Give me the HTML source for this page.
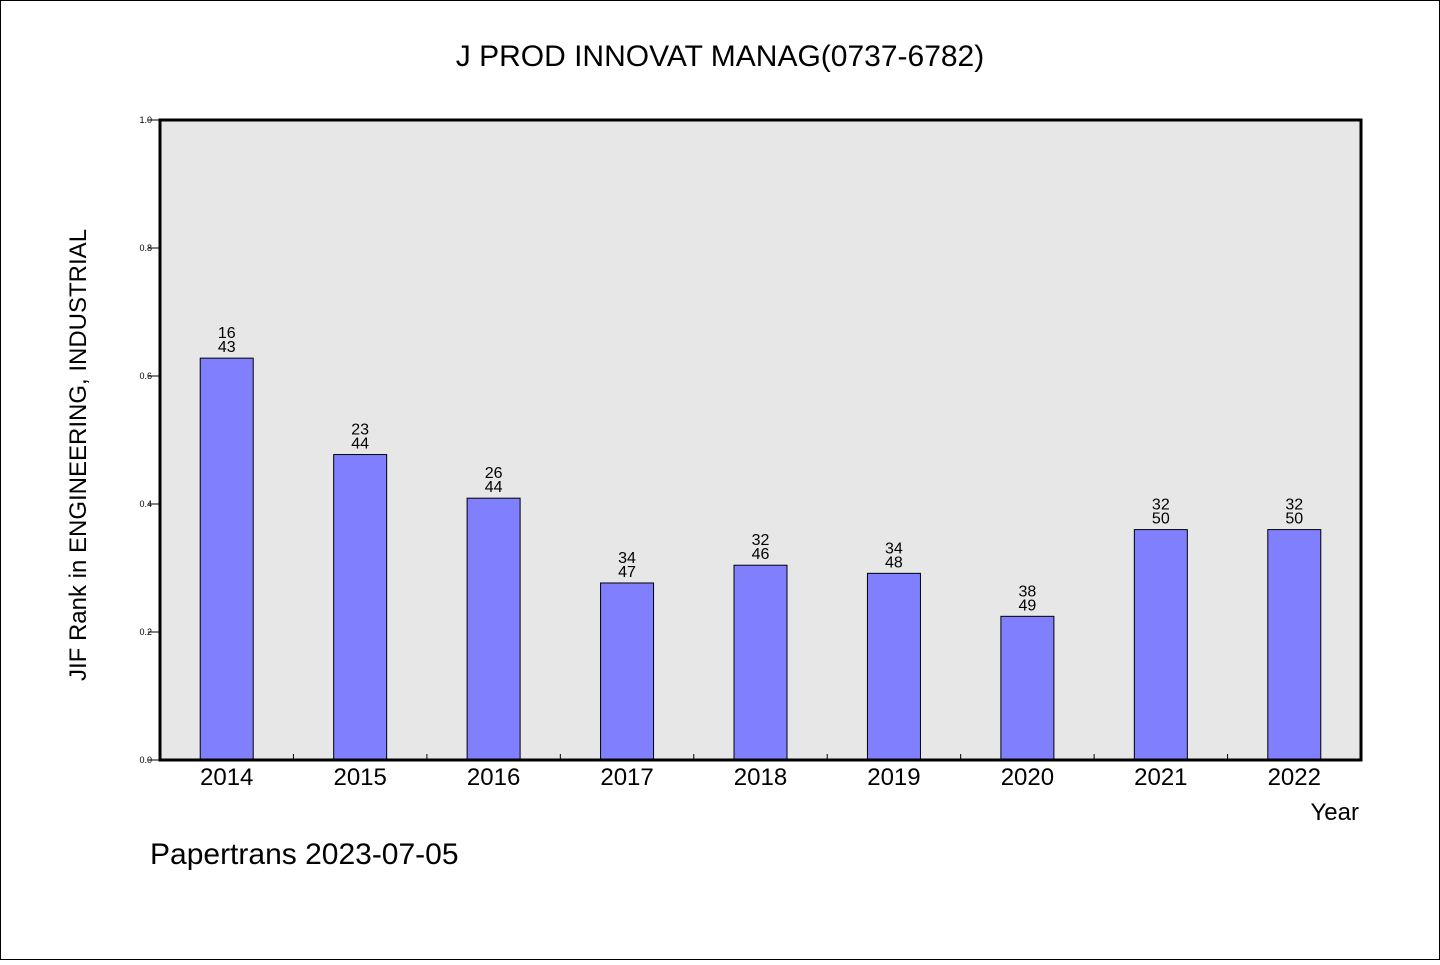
<!DOCTYPE html>
<html><head><meta charset="utf-8"><style>
body{margin:0;background:#fff}
svg text{font-family:"WenQuanYi Zen Hei","Liberation Sans",sans-serif;fill:#000}
</style></head><body>
<svg width="1440" height="960" viewBox="0 0 1440 960">
<rect x="0.5" y="0.5" width="1439" height="959" fill="#fff" stroke="#000"/>
<text x="720" y="66" font-size="30" text-anchor="middle">J PROD INNOVAT MANAG(0737-6782)</text>
<rect x="160" y="120" width="1201" height="640" fill="#e7e7e7"/>
<g id="g"></g>
<rect x="160" y="120" width="1201" height="640" fill="none" stroke="#000" stroke-width="3"/>
<text x="86" y="455" font-size="24" text-anchor="middle" transform="rotate(-90 86 455)">JIF Rank in ENGINEERING, INDUSTRIAL</text>
<text x="1359" y="820" font-size="24" text-anchor="end">Year</text>
<text x="150" y="864" font-size="30">Papertrans 2023-07-05</text>
</svg>
<script>
const years=["2014","2015","2016","2017","2018","2019","2020","2021","2022"];
const ranks=[16,23,26,34,32,34,38,32,32];
const totals=[43,44,44,47,46,48,49,50,50];
const yTicks=["0.0","0.2","0.4","0.6","0.8","1.0"];
const NS="http://www.w3.org/2000/svg";
const g=document.getElementById('g');
const X0=160,W=1201,Y0=760,H=640;
const slot=W/years.length;
const y=v=>Y0-v*H;
const xc=i=>X0+slot*(i+0.5);
function mk(t,a){const e=document.createElementNS(NS,t);for(const k in a)e.setAttribute(k,a[k]);g.appendChild(e);return e;}
yTicks.forEach(t=>{
 const v=parseFloat(t);
 const l=mk('line',{x1:X0-12,x2:X0,y1:y(v),y2:y(v),stroke:'#000','stroke-width':1});
 
 
 const tx=mk('text',{x:X0-8-0,y:y(v)+3,'font-size':9,'text-anchor':'end'});
 tx.setAttribute('x',152);
 tx.textContent=t;
 
 
});
for(let i=1;i<years.length;i++){
 const l=mk('line',{x1:X0+slot*i,x2:X0+slot*i,y1:Y0,y2:Y0-6,stroke:'#000','stroke-width':1});
 
 
}
years.forEach((yr,i)=>{
 const v=1-ranks[i]/totals[i];
 const bw=53;
 const b=mk('rect',{x:xc(i)-bw/2,y:y(v),width:bw,height:Y0-y(v),fill:'#8080ff',stroke:'#000','stroke-width':1});
 
 
 const t1=mk('text',{x:xc(i),y:y(v)-20,'font-size':16,'text-anchor':'middle'});
 t1.textContent=ranks[i];
 
 
 const t2=mk('text',{x:xc(i),y:y(v)-6,'font-size':16,'text-anchor':'middle'});
 t2.textContent=totals[i];
 
 
 const xl=mk('text',{x:xc(i),y:785,'font-size':24,'text-anchor':'middle'});
 xl.textContent=yr;
 
 
});
</script>
</body></html>
